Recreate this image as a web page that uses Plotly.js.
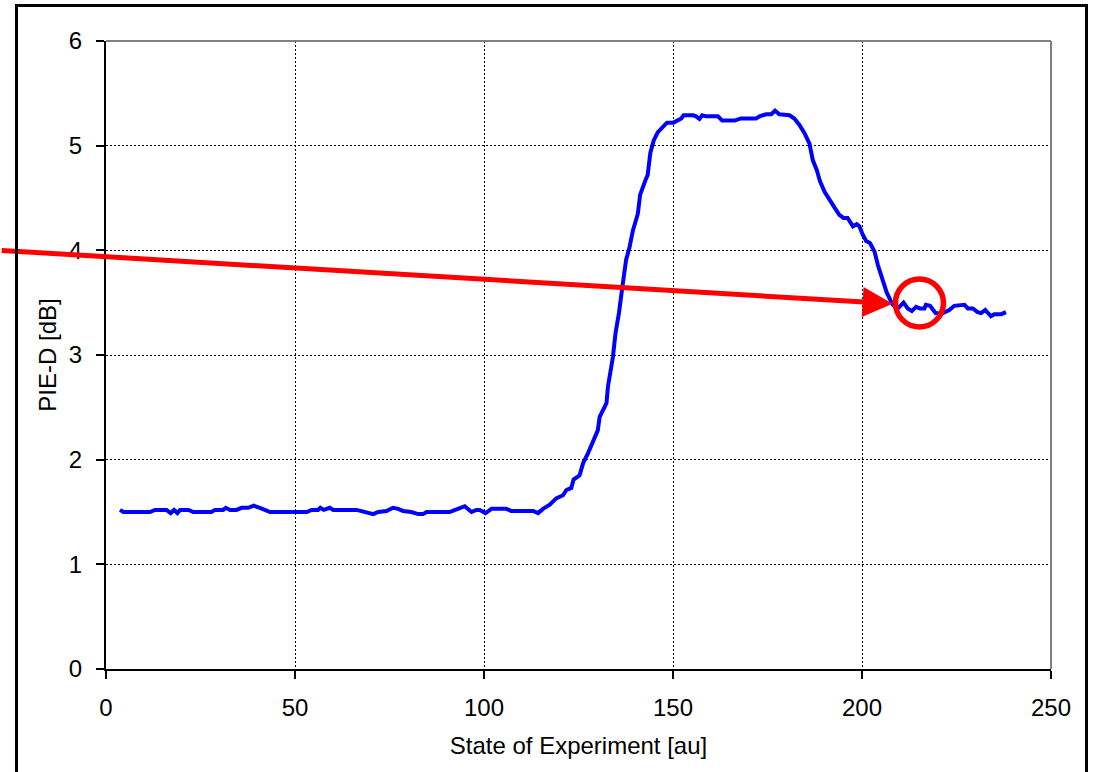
<!DOCTYPE html>
<html>
<head>
<meta charset="utf-8">
<script src="https://cdn.plot.ly/plotly-3.0.1.min.js"></script>
<style>
  html, body { margin: 0; padding: 0; background: #fff; }
  #wrap { position: relative; width: 1093px; height: 772px; overflow: hidden; }
  #chart { position: absolute; left: 0; top: 0; width: 1093px; height: 772px; }
  #frame { position: absolute; left: 15px; top: 4px; width: 1067px; height: 820px;
           border: 3px solid #000; pointer-events: none; }
</style>
</head>
<body>
<div id="wrap">
  <div id="chart"></div>
  <div id="frame"></div>
</div>
<script>
// Measured series: State of Experiment [au] vs PIE-D [dB]
const stateX = [
  3.7, 4.6, 11.6, 13.0, 16.0, 17.1, 18.0, 18.9, 19.6, 21.8, 23.1, 27.9, 28.8, 31.0, 31.7, 32.8,
  34.5, 35.9, 37.6, 39.1, 40.7, 43.4, 50.4, 53.1, 54.4, 56.1, 56.7, 57.6, 59.2, 60.1, 66.3, 68.9,
  70.7, 72.0, 74.2, 75.9, 77.3, 78.6, 80.8, 82.6, 83.9, 84.8, 90.9, 93.1, 94.9, 96.7, 98.0, 98.9,
  100.4, 102.0, 105.9, 107.2, 113.0, 114.3, 115.6, 117.4, 119.1, 120.9, 121.8, 123.1, 123.7, 125.3,
  126.2, 127.5, 128.8, 130.1, 130.6, 132.4, 132.8, 134.1, 134.8, 135.7, 136.6, 137.6, 138.5, 139.4,
  140.7, 141.3, 142.7, 143.3, 144.0, 144.9, 146.0, 147.3, 148.4, 150.1, 151.3, 152.2, 152.8, 155.3,
  156.1, 157.0, 157.7, 158.8, 161.9, 163.0, 166.3, 168.0, 172.0, 172.9, 174.6, 176.0, 177.0, 178.1,
  180.8, 182.1, 183.4, 184.8, 186.1, 187.0, 188.0, 188.9, 190.1, 191.4, 192.7, 194.0, 195.1, 196.2,
  197.6, 198.6, 199.3, 200.2, 201.1, 202.1, 203.3, 204.2, 205.5, 206.5, 208.1, 209.5, 211.0, 212.1,
  213.2, 214.3, 215.3, 216.5, 216.9, 218.0, 219.5, 221.3, 223.1, 224.4, 227.1, 228.0, 229.3, 230.6,
  231.5, 232.6, 234.1, 235.0, 236.8, 238.1
];
const pieD = [
  1.52, 1.50, 1.50, 1.52, 1.52, 1.49, 1.52, 1.49, 1.52, 1.52, 1.50, 1.50, 1.52, 1.52, 1.54, 1.52,
  1.52, 1.54, 1.54, 1.56, 1.54, 1.50, 1.50, 1.50, 1.52, 1.52, 1.54, 1.52, 1.54, 1.52, 1.52, 1.50,
  1.48, 1.50, 1.51, 1.54, 1.53, 1.51, 1.50, 1.48, 1.48, 1.50, 1.50, 1.53, 1.555, 1.50, 1.52, 1.52,
  1.49, 1.53, 1.53, 1.51, 1.51, 1.49, 1.53, 1.57, 1.63, 1.66, 1.71, 1.73, 1.81, 1.85,
  1.965, 2.06, 2.16, 2.28, 2.41, 2.54, 2.70, 2.98, 3.21, 3.40, 3.65, 3.91, 4.03, 4.19,
  4.35, 4.53, 4.67, 4.72, 4.93, 5.05, 5.13, 5.18, 5.22, 5.22, 5.245, 5.26, 5.29, 5.29,
  5.28, 5.255, 5.29, 5.28, 5.28, 5.24, 5.24, 5.26, 5.26, 5.28, 5.30, 5.30, 5.335, 5.30,
  5.29, 5.26, 5.20, 5.12, 5.02, 4.86, 4.77, 4.66, 4.56, 4.48, 4.41, 4.34, 4.31, 4.31,
  4.23, 4.25, 4.23, 4.15, 4.09, 4.07, 3.99, 3.86, 3.72, 3.60, 3.48, 3.445, 3.50, 3.445,
  3.42, 3.46, 3.445, 3.445, 3.48, 3.47, 3.40, 3.40, 3.43, 3.47, 3.48, 3.445, 3.445, 3.41,
  3.40, 3.43, 3.37, 3.39, 3.39, 3.41
];
const xTicks = [0, 50, 100, 150, 200, 250];
const yTicks = [0, 1, 2, 3, 4, 5, 6];
// Annotation: arrow from left edge to the point where the curve settles, circle around the plateau
const arrowTail = [-28, 4.0];
const arrowTip = [208.1, 3.49];
const circleCenter = [215.2, 3.497];
const circleRadius = [6.34, 0.229];

const font = { family: 'Liberation Sans, Arial, sans-serif', size: 24, color: '#000' };

const trace = {
  x: stateX, y: pieD, type: 'scatter', mode: 'lines',
  line: { color: '#0000ff', width: 4 }, hoverinfo: 'x+y'
};

const layout = {
  width: 1093, height: 772,
  margin: { l: 106, r: 41.5, t: 41, b: 103, pad: 0 },
  paper_bgcolor: '#fff', plot_bgcolor: '#fff',
  showlegend: false,
  font: font,
  xaxis: {
    range: [0, 250], tickvals: xTicks, ticktext: xTicks.map(String),
    showline: true, linecolor: '#000', linewidth: 2,
    ticks: 'outside', ticklen: 8, tickwidth: 2, tickcolor: '#000',
    showgrid: true, gridcolor: '#000', gridwidth: 1, griddash: '2px,2px',
    zeroline: false, tickfont: font, ticklabelstandoff: 8,
    title: { text: 'State of Experiment [au]', font: font, standoff: 17 }
  },
  yaxis: {
    range: [0, 6], tickvals: yTicks, ticktext: yTicks.map(String),
    showline: true, linecolor: '#000', linewidth: 2,
    ticks: 'outside', ticklen: 8, tickwidth: 2, tickcolor: '#000',
    showgrid: true, gridcolor: '#000', gridwidth: 1, griddash: '2px,2px',
    zeroline: false, tickfont: font, ticklabelstandoff: 9,
    title: { text: 'PIE-D [dB]', font: font, standoff: 5 }
  },
  shapes: [
    { type: 'line', xref: 'paper', yref: 'paper', x0: 0, x1: 1, y0: 1, y1: 1,
      line: { color: '#808080', width: 2 }, layer: 'above' },
    { type: 'line', xref: 'paper', yref: 'paper', x0: 1, x1: 1, y0: 0, y1: 1,
      line: { color: '#808080', width: 2 }, layer: 'above' },
    { type: 'circle', xref: 'x', yref: 'y',
      x0: circleCenter[0] - circleRadius[0], x1: circleCenter[0] + circleRadius[0],
      y0: circleCenter[1] - circleRadius[1], y1: circleCenter[1] + circleRadius[1],
      line: { color: '#ff0000', width: 5.5 }, layer: 'above' }
  ],
  annotations: [
    { x: arrowTip[0], y: arrowTip[1], xref: 'x', yref: 'y',
      ax: arrowTail[0], ay: arrowTail[1], axref: 'x', ayref: 'y',
      text: '', showarrow: true, arrowhead: 2, arrowsize: 1.2, arrowwidth: 5,
      arrowcolor: '#ff0000', standoff: 0 }
  ]
};

Plotly.newPlot('chart', [trace], layout, { displayModeBar: false, staticPlot: true });
</script>
</body>
</html>
